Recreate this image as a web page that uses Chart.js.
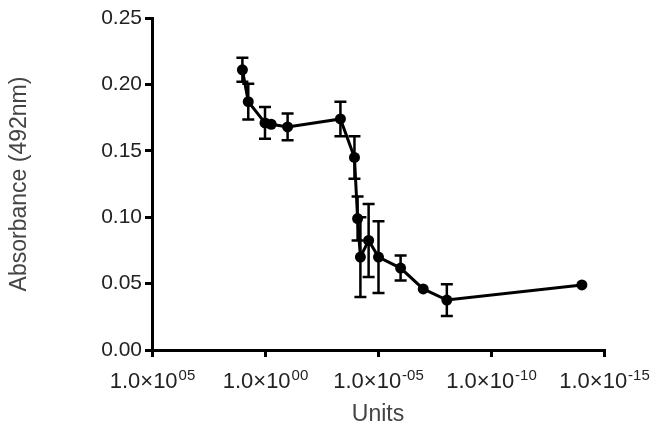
<!DOCTYPE html>
<html>
<head>
<meta charset="utf-8">
<script src="https://cdn.jsdelivr.net/npm/chart.js@4.4.1/dist/chart.umd.min.js"></script>
<style>
  body { margin: 0; background: #fff; }
</style>
</head>
<body>
<canvas id="myChart" width="652" height="432"></canvas>
<script>
// concentration (Units)
const units = [10, 5.5, 1.0, 0.53, 0.1, 4.6e-4, 1.1e-4, 8.0e-5, 6.0e-5, 2.6e-5, 9.5e-6, 1.0e-6, 1.0e-7, 9.0e-9, 9.5e-15];
const absorbance = [0.211, 0.187, 0.171, 0.170, 0.168, 0.174, 0.145, 0.099, 0.070, 0.0825, 0.070, 0.0617, 0.046, 0.0376, 0.049];
const errors = [0.009, 0.0135, 0.012, 0, 0.010, 0.013, 0.016, 0.0165, 0.030, 0.0275, 0.027, 0.0094, 0, 0.012, 0];

const xTickValues = [1e5, 1e0, 1e-5, 1e-10, 1e-15];
const xTickLabels = ['1.0×10^05', '1.0×10^00', '1.0×10^-05', '1.0×10^-10', '1.0×10^-15'];

// simple error bar drawing, uses the chart scales
const errorBars = {
    id: 'errorBars',
    afterDatasetsDraw(chart) {
        const ctx = chart.ctx;
        const xs = chart.scales.x, ys = chart.scales.y;
        ctx.save();
        ctx.strokeStyle = '#000';
        ctx.lineWidth = 2.5;
        units.forEach((u, i) => {
            if (!errors[i]) return;
            const x = xs.getPixelForValue(u);
            const top = ys.getPixelForValue(absorbance[i] + errors[i]);
            const bot = ys.getPixelForValue(absorbance[i] - errors[i]);
            ctx.beginPath();
            ctx.moveTo(x, top); ctx.lineTo(x, bot);
            ctx.moveTo(x - 6, top); ctx.lineTo(x + 6, top);
            ctx.moveTo(x - 6, bot); ctx.lineTo(x + 6, bot);
            ctx.stroke();
        });
        ctx.restore();
    }
};

// x tick labels with a raised exponent, placed at the scale's tick positions
const expTicks = {
    id: 'expTicks',
    afterDraw(chart) {
        const ctx = chart.ctx;
        const xs = chart.scales.x;
        const baseY = xs.top + 38;
        ctx.save();
        ctx.fillStyle = '#222';
        ctx.textBaseline = 'alphabetic';
        xs.ticks.forEach((t, i) => {
            const parts = xTickLabels[i].split('^');
            const x = xs.getPixelForValue(t.value);
            ctx.font = '22px "Liberation Sans"';
            const wb = ctx.measureText(parts[0]).width;
            ctx.font = '15px "Liberation Sans"';
            const we = ctx.measureText(parts[1]).width;
            const left = x - (wb + we) / 2;
            ctx.font = '22px "Liberation Sans"';
            ctx.fillText(parts[0], left, baseY);
            ctx.font = '15px "Liberation Sans"';
            ctx.fillText(parts[1], left + wb + 1, baseY - 8);
        });
        ctx.restore();
    }
};

const ctx = document.getElementById('myChart').getContext('2d');
const myChart = new Chart(ctx, {
    type: 'line',
    data: {
        datasets: [{
            data: units.map((u, i) => ({ x: u, y: absorbance[i] })),
            borderColor: '#000',
            backgroundColor: '#000',
            borderWidth: 3,
            pointRadius: 5.5,
            pointBackgroundColor: '#000',
            pointBorderWidth: 0,
            tension: 0,
            clip: false
        }]
    },
    options: {
        responsive: false,
        animation: false,
        layout: { padding: { top: 18, right: 48, left: 0, bottom: 0 } },
        plugins: { legend: { display: false }, tooltip: { enabled: false } },
        scales: {
            x: {
                type: 'logarithmic',
                reverse: true,
                min: 1e-15,
                max: 1e5,
                afterBuildTicks: s => { s.ticks = xTickValues.map(v => ({ value: v })); },
                afterFit: s => { s.height = 82; },
                border: { color: '#000', width: 3 },
                grid: { drawOnChartArea: false, tickLength: 7, color: '#000', lineWidth: 3 },
                ticks: { display: false },
                title: {
                    display: true,
                    text: 'Units',
                    color: '#444',
                    font: { family: 'Liberation Sans', size: 23 },
                    padding: { top: 0, bottom: 4 }
                }
            },
            y: {
                min: 0,
                max: 0.25,
                afterFit: s => { s.width = 152; },
                border: { color: '#000', width: 3 },
                grid: { drawOnChartArea: false, tickLength: 7, color: '#000', lineWidth: 3 },
                ticks: {
                    stepSize: 0.05,
                    padding: 3,
                    color: '#222',
                    font: { family: 'Liberation Sans', size: 21 },
                    callback: v => v.toFixed(2)
                },
                title: {
                    display: true,
                    text: 'Absorbance (492nm)',
                    color: '#444',
                    font: { family: 'Liberation Sans', size: 23 },
                    padding: { top: 6, bottom: 0 }
                }
            }
        }
    },
    plugins: [errorBars, expTicks]
});
</script>
</body>
</html>
